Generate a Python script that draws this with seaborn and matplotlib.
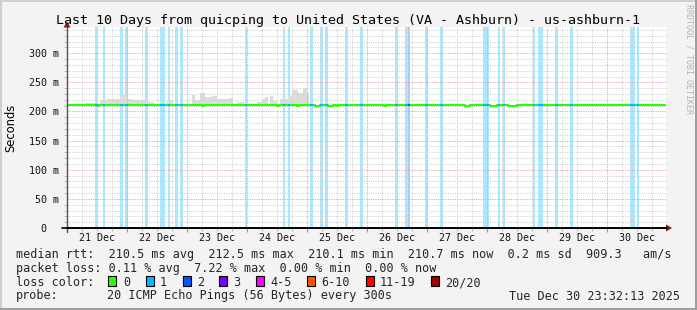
import numpy as np
import pandas as pd
import matplotlib
matplotlib.use("Agg")
import matplotlib.pyplot as plt
import seaborn as sns
from matplotlib.patches import Rectangle, Polygon
from matplotlib.ticker import MultipleLocator, FixedLocator
from matplotlib.transforms import blended_transform_factory

# ---------------- data ----------------
title = "Last 10 Days from quicping to United States (VA - Ashburn) - us-ashburn-1"
day_labels = ["21 Dec", "22 Dec", "23 Dec", "24 Dec", "25 Dec",
              "26 Dec", "27 Dec", "28 Dec", "29 Dec", "30 Dec"]
y_tick_values = [0, 50, 100, 150, 200, 250, 300]
y_tick_labels = ["0\u00a0\u00a0", "50 m", "100 m", "150 m", "200 m", "250 m", "300 m"]

# hours since 21 Dec 00:00
window_start_h = -0.1
window_end_h = 239.4

# median rtt (ms) as a step series: change points
median_t_h = [-0.1, 12.2, 12.8, 54.0, 54.8, 84.0, 84.8, 92.0, 92.8, 99.2, 101.2,
              104.4, 106.4, 107.6, 108.4, 126.8, 127.6, 159.2, 161.2, 169.2,
              172.0, 176.4, 180.0, 239.4]
median_ms = [210.8, 208.6, 210.8, 208.6, 210.8, 209.0, 210.8, 209.0, 210.8, 209.0,
             210.8, 209.0, 210.8, 209.0, 210.8, 209.0, 210.8, 209.0, 210.8, 209.0,
             210.8, 209.0, 210.8, 210.8]

# packet loss periods
loss_start_h = [11.2, 14.2, 21.2, 23.3, 31.2, 37.2, 40.2, 43.2, 45.2, 71.2, 86.3,
                88.4, 97.2, 101.2, 103.2, 111.2, 117.2, 131.2, 135.2, 136.2, 143.2,
                149.2, 166.5, 172.3, 174.3, 186.3, 188.2, 195.1, 201.2, 225.2, 227.9]
loss_width_h = [1.1, 0.8, 1.1, 1.0, 1.1, 1.9, 0.9, 1.1, 1.1, 0.9, 0.9, 0.8, 1.1,
                1.1, 1.1, 1.1, 1.1, 1.1, 1.0, 0.9, 1.1, 1.1, 2.4, 0.9, 0.9, 0.9,
                2.0, 1.1, 1.1, 2.0, 1.05]
loss_level = [1, 1, 1, 1, 1, 1, 1, 1, 1, 1, 1, 1, 1, 1, 1, 1, 1, 1, 1, 2, 1,
              1, 1, 1, 1, 1, 1, 1, 1, 1, 1]

# smoke (spread of ping times above the median)
smoke_start_h = [7.0, 13.2, 15.9, 21.2, 23.9, 26.5, 31.9, 39.9, 49.9, 51.2, 53.2,
                 55.2, 58.0, 60.0, 64.8, 67.9, 75.8, 77.9, 79.2, 81.2, 82.5, 85.2,
                 88.5, 89.9, 92.5, 94.5, 95.9, 131.6]
smoke_end_h = [11.0, 15.9, 21.2, 23.9, 26.5, 31.9, 34.6, 42.5, 51.2, 53.2, 55.2,
               58.0, 60.0, 64.8, 66.2, 70.6, 77.9, 79.2, 80.5, 82.5, 83.9, 88.5,
               89.9, 92.5, 94.5, 95.9, 96.6, 132.6]
smoke_top_ms = [214, 219, 222, 229, 222, 219, 216, 218, 229, 219, 231, 225, 226,
                221, 223, 217, 217, 222, 225, 226, 218, 222, 226, 237, 231, 240,
                231, 218]

loss_names = ["0", "1", "2", "3", "4-5", "6-10", "11-19", "20/20"]
loss_colors = ["#26ff00", "#00b8ff", "#0059ff", "#7e00ff", "#ff00ff",
               "#ff5500", "#ff0000", "#a10000"]

legend_lines = [
    "median rtt:  210.5 ms avg  212.5 ms max  210.1 ms min  210.7 ms now  0.2 ms sd  909.3   am/s",
    "packet loss: 0.11 % avg  7.22 % max  0.00 % min  0.00 % now",
]
loss_color_title = "loss color:"
probe_title = "probe:"
probe_text = "20 ICMP Echo Pings (56 Bytes) every 300s"
timestamp = "Tue Dec 30 23:32:13 2025"

# ---------------- style ----------------
sns.set_theme(style="white")
plt.rcParams["font.family"] = ["DejaVu Sans Mono", "DejaVu Sans"]
plt.rcParams["axes.unicode_minus"] = False

W, H = 697, 310
BG = "#f3f3f3"
fig = plt.figure(figsize=(W / 100, H / 100), dpi=100, facecolor=BG)

ax_l, ax_r, ax_t, ax_b = 67, 665.5, 27, 228
ax = fig.add_axes([ax_l / W, 1 - ax_b / H, (ax_r - ax_l) / W, (ax_b - ax_t) / H])
ax.set_facecolor("white")

# loss bars (full height, translucent loss colour)
for s, w, lv in zip(loss_start_h, loss_width_h, loss_level):
    ax.bar(s, 345, width=w, bottom=0, align="edge", color=loss_colors[lv],
           alpha=0.33, linewidth=0, zorder=1)

# smoke
smoke_df = pd.DataFrame({"start": smoke_start_h, "end": smoke_end_h, "top": smoke_top_ms})
base = np.interp(smoke_df["start"], median_t_h, median_ms)
ax.bar(smoke_df["start"], smoke_df["top"] - base, width=smoke_df["end"] - smoke_df["start"],
       bottom=base, align="edge", color="#dcdcdc", linewidth=0, zorder=1.5)

# median line
med_df = pd.DataFrame({"t": median_t_h, "ms": median_ms})
sns.lineplot(data=med_df, x="t", y="ms", ax=ax, color=loss_colors[0], linewidth=1.5,
             drawstyle="steps-post", estimator=None, zorder=3)

# median line coloured by loss
t_arr = np.array(median_t_h)
for s, w, lv in zip(loss_start_h, loss_width_h, loss_level):
    idx = np.searchsorted(t_arr, s, side="right") - 1
    v = median_ms[idx]
    ax.plot([s, s + w], [v, v], color=loss_colors[lv], linewidth=1.5,
            solid_capstyle="butt", zorder=3.5)

ax.set_xlim(window_start_h, window_end_h)
ax.set_ylim(0, 345)
ax.set_xlabel("")
ax.set_ylabel("")

# grid / ticks
ax.xaxis.set_major_locator(MultipleLocator(24))
ax.xaxis.set_minor_locator(MultipleLocator(6))
ax.yaxis.set_major_locator(FixedLocator(y_tick_values))
ax.yaxis.set_minor_locator(MultipleLocator(10))
ax.set_yticklabels(y_tick_labels)
ax.set_xticklabels([])
ax.set_axisbelow(False)
ax.grid(which="major", color="#e8a5a5", linestyle=(0, (1.2, 1.2)), linewidth=0.7)
ax.grid(which="minor", color="#d2d2d2", linestyle=(0, (1.2, 1.2)), linewidth=0.7)
for gl in ax.get_xgridlines() + ax.get_ygridlines():
    gl.set_zorder(2)
ax.tick_params(axis="y", which="major", direction="out", length=3, width=0.8,
               color="#b08080", labelsize=7.2, pad=3, labelcolor="#111111")
ax.tick_params(axis="y", which="minor", direction="out", length=2, width=0.6,
               color="#b0b0b0", left=True)
ax.tick_params(axis="x", which="major", direction="out", length=3, width=0.8,
               color="#d08080", bottom=True)
ax.tick_params(axis="x", which="minor", direction="out", length=2, width=0.6,
               color="#b0b0b0", bottom=True)
for sp in ["top", "right"]:
    ax.spines[sp].set_visible(False)
ax.spines["left"].set_color("#505060")
ax.spines["left"].set_linewidth(1.0)
ax.spines["left"].set_zorder(4)
ax.spines["bottom"].set_color("#000000")
ax.spines["bottom"].set_linewidth(1.2)
for lbl in ax.get_yticklabels():
    lbl.set_family("DejaVu Sans Mono")

# day labels centred at noon
tr = blended_transform_factory(ax.transData, fig.transFigure)
for i, lab in enumerate(day_labels):
    ax.text(12 + 24 * i, 1 - 241 / H, lab, transform=tr, ha="center", va="baseline",
            fontsize=7.2, family="DejaVu Sans Mono", color="#111111", clip_on=False)

# ---------------- overlay (text, legend, frame) ----------------
ov = fig.add_axes([0, 0, 1, 1], zorder=5)
ov.set_xlim(0, W)
ov.set_ylim(H, 0)
ov.axis("off")
ov.patch.set_alpha(0)

# frame
ov.add_patch(Rectangle((0, 0), W, 2, color="#cfcfcf", lw=0))
ov.add_patch(Rectangle((0, 0), 2, H, color="#cfcfcf", lw=0))
ov.add_patch(Rectangle((W - 2.5, 0), 2.5, H, color="#9e9e9e", lw=0))
ov.add_patch(Rectangle((0, H - 2.5), W, 2.5, color="#9e9e9e", lw=0))

# axis arrows
ov.plot([67, 67], [228, 232], color="#505060", lw=1.0)
ov.plot([62, 667], [228, 228], color="#000000", lw=1.2)
ov.add_patch(Polygon([[63.5, 27.5], [70.5, 27.5], [67, 21.5]], closed=True,
                     color="#7f1a1a", lw=0))
ov.add_patch(Polygon([[666, 224.5], [666, 231.5], [672, 228]], closed=True,
                     color="#7f1a1a", lw=0))

ov.text(W / 2, 24, title, ha="center", va="baseline", fontsize=9.6,
        family="DejaVu Sans Mono", color="#000000")
ov.text(11, 127.5, "Seconds", rotation=90, ha="center", va="center", fontsize=8.3,
        family="DejaVu Sans", color="#000000")
ov.text(688.5, 4, "RRDTOOL / TOBI OETIKER", rotation=270, ha="center", va="top",
        fontsize=6.0, family="DejaVu Sans Mono", color="#b4b4b4")

fs = 8.5
ov.text(16, 258, legend_lines[0], ha="left", va="baseline", fontsize=fs)
ov.text(16, 272, legend_lines[1], ha="left", va="baseline", fontsize=fs)
ov.text(16, 286, loss_color_title, ha="left", va="baseline", fontsize=fs)
box_x = [108.3, 145.7, 182.7, 219.3, 256, 307.3, 365.7, 430.7]
lab_x = [123.3, 160, 196.7, 233.3, 270.7, 321.7, 380, 445]
for bx, lx, name, col in zip(box_x, lab_x, loss_names, loss_colors):
    ov.add_patch(Rectangle((bx, 276), 8, 10, facecolor=col, edgecolor="#000000", lw=0.8))
    ov.text(lx, 286, name, ha="left", va="baseline", fontsize=fs)
ov.text(16, 299.5, probe_title, ha="left", va="baseline", fontsize=fs)
ov.text(107.3, 299.5, probe_text, ha="left", va="baseline", fontsize=fs)
ov.text(680, 299.5, timestamp, ha="right", va="baseline", fontsize=fs)

fig.savefig("out.png", dpi=100, facecolor=BG)
